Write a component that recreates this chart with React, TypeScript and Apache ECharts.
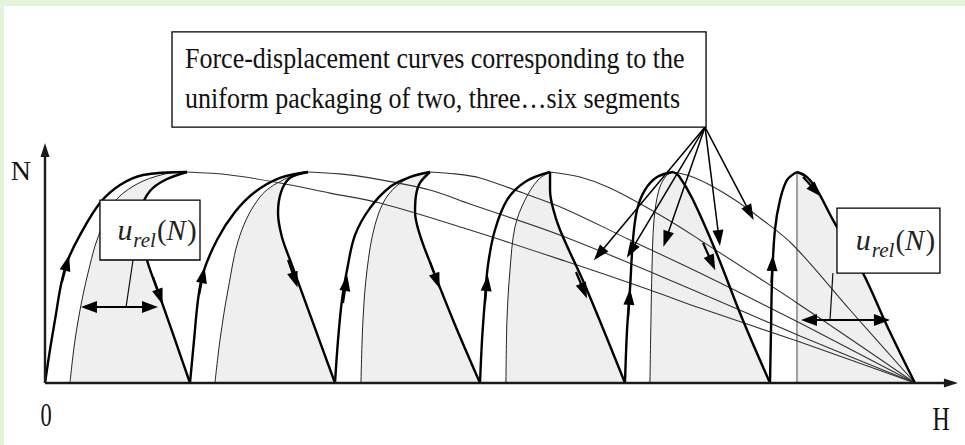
import React, { useEffect, useRef } from "react";
import * as echarts from "echarts";

// Plot units: H runs 0..6 (one unit per packed segment), N runs 0..1 (peak force).
const H_MIN = -0.28276;
const H_MAX = 6.34483;
const N_MIN = -0.29384;
const N_MAX = 1.78673;

// Loading branch of each segment (thick, arrow pointing up)
const riseCurves: number[][][] = [
  [[0, 0], [0.034, 0.156], [0.069, 0.299], [0.11, 0.464], [0.152, 0.573], [0.241, 0.701], [0.379, 0.853], [0.517, 0.938], [0.676, 0.986], [0.979, 1]],
  [[1, 0], [1.028, 0.204], [1.055, 0.393], [1.09, 0.521], [1.186, 0.678], [1.31, 0.81], [1.448, 0.905], [1.621, 0.972], [1.814, 1]],
  [[2, 0], [2.021, 0.204], [2.048, 0.393], [2.083, 0.536], [2.138, 0.701], [2.241, 0.829], [2.379, 0.929], [2.517, 0.976], [2.655, 1]],
  [[3, 0], [3.014, 0.204], [3.034, 0.393], [3.055, 0.559], [3.103, 0.725], [3.186, 0.867], [3.31, 0.953], [3.483, 1]],
  [[4, 0], [4.014, 0.251], [4.034, 0.441], [4.055, 0.678], [4.083, 0.82], [4.138, 0.915], [4.221, 0.976], [4.331, 1]],
  [[5, 0], [5.007, 0.251], [5.014, 0.488], [5.034, 0.725], [5.069, 0.867], [5.117, 0.962], [5.186, 1]],
];

// Unloading branch of each segment (thick, arrow pointing down)
const fallCurves: number[][][] = [
  [[0.979, 1], [0.828, 0.962], [0.724, 0.91], [0.669, 0.829], [0.662, 0.716], [0.703, 0.583], [0.793, 0.408], [0.897, 0.204], [1, 0]],
  [[1.814, 1], [1.69, 0.972], [1.628, 0.905], [1.607, 0.806], [1.634, 0.692], [1.69, 0.583], [1.841, 0.299], [2, 0]],
  [[2.655, 1], [2.586, 0.948], [2.559, 0.891], [2.552, 0.81], [2.586, 0.701], [2.676, 0.536], [2.828, 0.275], [3, 0]],
  [[3.483, 1], [3.483, 0.915], [3.503, 0.829], [3.552, 0.725], [3.738, 0.441], [4, 0]],
  [[4.331, 1], [4.372, 0.981], [4.466, 0.872], [4.628, 0.621], [4.807, 0.308], [5, 0]],
  [[5.186, 1], [5.255, 0.976], [5.324, 0.915], [5.434, 0.773], [5.641, 0.521], [5.814, 0.261], [6, 0]],
];

// Thin inner boundary of every shaded region
const innerCurves: number[][][] = [
  [[0.172, 0], [0.207, 0.204], [0.255, 0.393], [0.31, 0.559], [0.359, 0.678], [0.462, 0.844], [0.621, 0.938], [0.828, 0.991], [0.979, 1]],
  [[1.172, 0], [1.207, 0.204], [1.262, 0.441], [1.345, 0.701], [1.483, 0.882], [1.641, 0.962], [1.814, 1]],
  [[2.179, 0], [2.193, 0.299], [2.221, 0.536], [2.276, 0.749], [2.366, 0.891], [2.517, 0.976], [2.655, 1]],
  [[3.179, 0], [3.186, 0.299], [3.207, 0.536], [3.241, 0.739], [3.31, 0.867], [3.4, 0.962], [3.483, 1]],
  [[4.172, 0], [4.179, 0.299], [4.186, 0.536], [4.2, 0.773], [4.234, 0.915], [4.283, 0.981], [4.331, 1]],
  [[5.186, 0], [5.186, 1]],
];

// Force-displacement curves for uniform packaging of two ... six segments
const packingCurves: number[][][] = [
  [[0.979, 1], [1.276, 0.986], [1.621, 0.948], [1.966, 0.9], [2.31, 0.853], [2.931, 0.725], [3.586, 0.578], [4.172, 0.441], [4.517, 0.355], [5.207, 0.194], [6, 0]],
  [[1.814, 1], [2.034, 0.991], [2.241, 0.972], [2.655, 0.915], [2.931, 0.848], [3.586, 0.692], [4.517, 0.427], [5.207, 0.223], [6, 0]],
  [[2.655, 1], [2.828, 0.991], [3.0, 0.972], [3.297, 0.9], [3.586, 0.825], [4.034, 0.678], [4.517, 0.521], [5.207, 0.284], [6, 0]],
  [[3.483, 1], [3.69, 0.976], [3.897, 0.924], [4.241, 0.796], [4.517, 0.678], [5.207, 0.37], [6, 0]],
  [[4.331, 1], [4.448, 0.981], [4.586, 0.938], [4.759, 0.867], [4.931, 0.782], [5.159, 0.654], [5.552, 0.346], [6, 0]],
];

// Direction arrows along the loading / unloading branches: [fromH, fromN, toH, toN]
const curveArrows: number[][] = [
  [0.117, 0.479, 0.152, 0.569],
  [1.062, 0.417, 1.09, 0.512],
  [2.055, 0.379, 2.076, 0.474],
  [3.034, 0.379, 3.048, 0.474],
  [4.021, 0.313, 4.031, 0.408],
  [5.01, 0.474, 5.017, 0.569],
  [0.745, 0.502, 0.793, 0.408],
  [1.676, 0.583, 1.724, 0.488],
  [2.655, 0.573, 2.703, 0.483],
  [3.662, 0.526, 3.717, 0.436],
  [4.538, 0.664, 4.6, 0.569],
  [5.228, 0.976, 5.317, 0.91],
];

// Note box and the arrows fanning out from its corner
const noteBox = [0.876, 1.213, 4.559, 1.664];
const noteLines = [
  "Force-displacement curves corresponding to the",
  "uniform packaging of two, three…six segments",
];
const fanOrigin = [4.552, 1.213];
const fanTargets: number[][] = [
  [3.821, 0.611],
  [4.041, 0.626],
  [4.283, 0.682],
  [4.648, 0.687],
  [4.862, 0.806],
];

// u_rel(N) call-outs: box, leader line, double arrow span
const relBoxes: number[][] = [
  [0.379, 0.583, 1.069, 0.867],
  [5.462, 0.521, 6.172, 0.829],
];
const relLeaders: number[][] = [
  [0.607, 0.583, 0.559, 0.36],
  [5.434, 0.521, 5.414, 0.299],
];
const relSpans: number[][] = [
  [0.303, 0.36, 0.724, 0.36],
  [5.269, 0.299, 5.772, 0.299],
];

// Axes (ends at arrowhead centres) and their labels
const axisEnds = { h: [6.248, 0], n: [0, 1.104] };
const axisLabels: { text: string; at: number[]; scaleX: number; size: number }[] = [
  { text: "N", at: [-0.166, 1.009], scaleX: 1, size: 28 },
  { text: "0", at: [0.007, -0.152], scaleX: 0.68, size: 33 },
  { text: "H", at: [6.179, -0.166], scaleX: 0.72, size: 33 },
];

const SERIF = '"Liberation Serif", "Times New Roman", serif';

function curve(data: number[][], color: string, width: number, z: number, extra: any = {}) {
  return {
    type: "line",
    data,
    smooth: 0.35,
    showSymbol: false,
    symbol: "none",
    silent: true,
    z,
    lineStyle: { color, width },
    ...extra,
  };
}

const seg = (a: number[], b: number[], from: string, to: string) => [
  { coord: a, symbol: from },
  { coord: b, symbol: to },
];

export default function App() {
  const ref = useRef<HTMLDivElement>(null);

  useEffect(() => {
    if (!ref.current) return;
    const chart = echarts.init(ref.current, undefined, { renderer: "svg" });

    const fills = innerCurves.map((c, i) => [...c, ...fallCurves[i].slice(1)]);

    const series: any[] = [];
    fills.forEach((d) =>
      series.push(
        curve(d, "#efefef", 0, 1, {
          lineStyle: { width: 0, color: "#efefef" },
          areaStyle: { color: "#efefef", opacity: 1 },
        })
      )
    );
    innerCurves.forEach((d, i) =>
      series.push(curve(d, i === 5 ? "#8a8a8a" : "#222", i === 5 ? 1.6 : 1, 3))
    );
    packingCurves.forEach((d) => series.push(curve(d, "#333", 1.1, 3)));
    riseCurves.forEach((d) => series.push(curve(d, "#000", 2.4, 4)));
    fallCurves.forEach((d) => series.push(curve(d, "#000", 2.4, 4)));

    const lineCommon = {
      silent: true,
      animation: false,
      label: { show: false },
      emphasis: { disabled: true },
      symbolSize: [11, 16],
    };

    const holder = (z: number, markLine: any) => ({
      type: "line",
      data: [[0, 0]],
      showSymbol: false,
      symbol: "none",
      lineStyle: { width: 0 },
      silent: true,
      z,
      markLine: { ...lineCommon, ...markLine },
    });

    // axes
    series.push(
      holder(5, {
        symbolSize: [9, 14],
        lineStyle: { color: "#1a1a1a", width: 2.4, type: "solid" },
        data: [
          seg([0, 0], axisEnds.h, "none", "triangle"),
          seg([0, 0], axisEnds.n, "none", "triangle"),
        ],
      })
    );
    // arrows on the curves
    series.push(
      holder(6, {
        lineStyle: { color: "#000", width: 2.2, type: "solid" },
        data: curveArrows.map((a) => seg([a[0], a[1]], [a[2], a[3]], "none", "triangle")),
      })
    );
    // fan from the note box
    series.push(
      holder(7, {
        lineStyle: { color: "#000", width: 1.5, type: "solid" },
        data: fanTargets.map((t) => seg(fanOrigin, t, "none", "triangle")),
      })
    );
    // u_rel leaders and spans
    series.push(
      holder(8, {
        symbolSize: [12, 16],
        lineStyle: { color: "#000", width: 2, type: "solid" },
        data: [
          ...relLeaders.map((l) => {
            const s = seg([l[0], l[1]], [l[2], l[3]], "none", "none");
            return s.map((p) => ({ ...p, lineStyle: { width: 1.2, color: "#111" } }));
          }),
          ...relSpans.map((s) => seg([s[0], s[1]], [s[2], s[3]], "triangle", "triangle")),
        ],
      })
    );

    chart.setOption({
      animation: false,
      grid: { left: 0, right: 0, top: 0, bottom: 0 },
      xAxis: { type: "value", min: H_MIN, max: H_MAX, show: false },
      yAxis: { type: "value", min: N_MIN, max: N_MAX, show: false },
      series,
    });

    const px = (p: number[]) => chart.convertToPixel({ gridIndex: 0 }, p) as number[];
    const rectOf = (b: number[]) => {
      const a = px([b[0], b[3]]);
      const c = px([b[2], b[1]]);
      return { x: a[0], y: a[1], width: c[0] - a[0], height: c[1] - a[1] };
    };

    const graphic: any[] = [];
    const note = rectOf(noteBox);
    graphic.push({
      type: "rect",
      z: 50,
      shape: note,
      style: { fill: "#fff", stroke: "#000", lineWidth: 1.3 },
    });
    graphic.push({
      type: "text",
      z: 51,
      x: note.x + 13,
      y: note.y + 46,
      scaleY: 1.12,
      style: {
        text: noteLines.join("\n"),
        fontSize: 26,
        fontFamily: SERIF,
        fill: "#111",
        lineHeight: 36,
        align: "left",
        verticalAlign: "middle",
      },
    });

    relBoxes.forEach((b) => {
      const r = rectOf(b);
      graphic.push({
        type: "rect",
        z: 50,
        shape: r,
        style: { fill: "#fff", stroke: "#000", lineWidth: 1.3 },
      });
      graphic.push({
        type: "text",
        z: 51,
        x: r.x + r.width / 2 + 7,
        y: r.y + r.height / 2 + 2,
        style: {
          text: "{u|u}{s|rel}{p|(}{n|N}{p|)}",
          align: "center",
          verticalAlign: "middle",
          fill: "#222",
          rich: {
            u: { fontSize: 30, fontFamily: SERIF, fontStyle: "italic", verticalAlign: "bottom", padding: [0, 1, 6, 0] },
            s: { fontSize: 21, fontFamily: SERIF, fontStyle: "italic", verticalAlign: "bottom", padding: [0, 1, 0, 0] },
            p: { fontSize: 29, fontFamily: SERIF, verticalAlign: "bottom", padding: [0, 0, 6, 0] },
            n: { fontSize: 29, fontFamily: SERIF, fontStyle: "italic", verticalAlign: "bottom", padding: [0, 1, 6, 0] },
          },
        },
      });
    });

    axisLabels.forEach((l) => {
      const p = px(l.at);
      graphic.push({
        type: "text",
        z: 51,
        x: p[0],
        y: p[1],
        scaleX: l.scaleX,
        style: {
          text: l.text,
          fontSize: l.size,
          fontFamily: SERIF,
          fill: "#111",
          align: "center",
          verticalAlign: "middle",
        },
      });
    });

    chart.setOption({ graphic });

    return () => chart.dispose();
  }, []);

  return (
    <div
      style={{
        position: "absolute",
        left: 0,
        top: 0,
        width: 965,
        height: 445,
        background: "#e3f4da",
      }}
    >
      <div
        ref={ref}
        style={{
          position: "absolute",
          left: 4,
          top: 6,
          width: 961,
          height: 439,
          background: "#ffffff",
        }}
      />
    </div>
  );
}
